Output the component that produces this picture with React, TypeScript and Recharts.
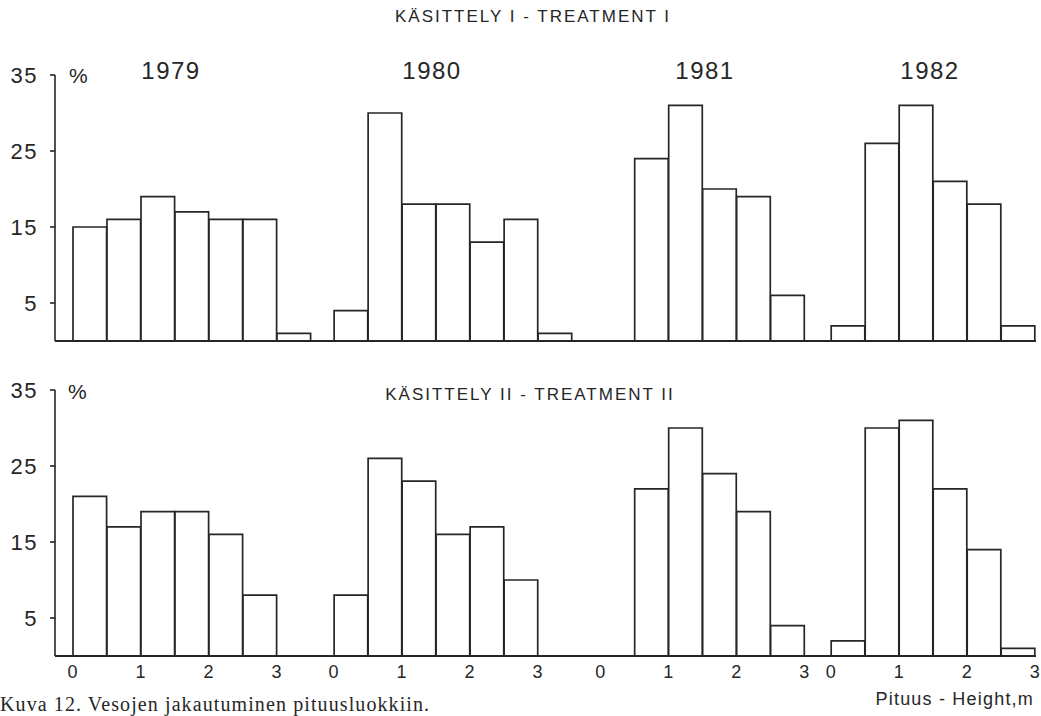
import { BarChart, Bar, XAxis, YAxis } from 'recharts';

// height classes (m): midpoints of 0.5 m classes, last one is ">3 m"
const classMids = [0.25, 0.75, 1.25, 1.75, 2.25, 2.75, 3.25];
const classTickValues = [0, 1, 2, 3];
const classTickLabels = ['0', '1', '2', '3'];
const years = ['1979', '1980', '1981', '1982'];
const yTicks = [5, 15, 25, 35];

// Treatment I, % of shoots per height class
const t1_1979 = [15, 16, 19, 17, 16, 16, 1];
const t1_1980 = [4, 30, 18, 18, 13, 16, 1];
const t1_1981 = [0, 24, 31, 20, 19, 6];
const t1_1982 = [2, 26, 31, 21, 18, 2];

// Treatment II
const t2_1979 = [21, 17, 19, 19, 16, 8, 0];
const t2_1980 = [8, 26, 23, 16, 17, 10, 0];
const t2_1981 = [0, 22, 30, 24, 19, 4];
const t2_1982 = [2, 30, 31, 22, 14, 1];

// layout: where each year's "0 m" sits on the shared axis (in metres)
const GROUP_START = [0, 3.84, 7.76, 11.15];
const WIDTH = 1041;
const AXIS_W = 55;
const RIGHT = 5;
const PX_PER_M = 68;
const X_MIN = -18 / PX_PER_M;
const X_MAX = X_MIN + (WIDTH - AXIS_W - RIGHT) / PX_PER_M;
const BAR_SIZE = PX_PER_M / 2 - 0.4;

const INK = '#262626';
const FONT = '"Liberation Sans", Arial, Helvetica, sans-serif';

function buildRows(groups: number[][]) {
    const rows: { x: number; v: number }[] = [];
    groups.forEach((vals, g) => {
        vals.forEach((v, i) => {
            rows.push({ x: GROUP_START[g] + classMids[i], v });
        });
    });
    return rows;
}

const ticksX: number[] = [];
const ticksXLabels: string[] = [];
GROUP_START.forEach(start => {
    classTickValues.forEach((t, i) => {
        ticksX.push(start + t);
        ticksXLabels.push(classTickLabels[i]);
    });
});

function Panel({ rows, showTicks, height, top, bottom }: { rows: { x: number; v: number }[]; showTicks: boolean; height: number; top: number; bottom: number }) {
    const xAxisH = showTicks ? 30 : 1;
    return (
        <BarChart width={WIDTH} height={height} data={rows} margin={{ top, right: RIGHT, left: 0, bottom }} barCategoryGap={0} barGap={0}>
            <XAxis
                type="number"
                dataKey="x"
                domain={[X_MIN, X_MAX]}
                allowDataOverflow
                ticks={showTicks ? ticksX : []}
                interval={0}
                tick={showTicks ? { fill: INK, fontSize: 18, fontFamily: FONT, letterSpacing: 1 } : false}
                tickFormatter={(_v: number, i: number) => ticksXLabels[i]}
                tickLine={false}
                tickSize={0}
                tickMargin={9}
                height={xAxisH}
                stroke={INK}
                strokeWidth={1.8}
            />
            <YAxis
                type="number"
                domain={[0, 35]}
                ticks={yTicks}
                interval={0}
                width={AXIS_W}
                tickSize={5}
                tickMargin={12}
                tick={{ fill: INK, fontSize: 22, fontFamily: FONT, letterSpacing: 1.5 }}
                stroke={INK}
                strokeWidth={1.6}
            />
            <Bar dataKey="v" fill="#fff" stroke={INK} strokeWidth={1.7} barSize={BAR_SIZE} isAnimationActive={false} />
        </BarChart>
    );
}

export default function App() {
    const rows1 = buildRows([t1_1979, t1_1980, t1_1981, t1_1982]);
    const rows2 = buildRows([t2_1979, t2_1980, t2_1981, t2_1982]);
    const yearX = [171, 432, 705, 930];

    return (
        <div style={{ position: 'fixed', left: 0, top: 0, width: WIDTH, height: 716, background: '#fff', overflow: 'hidden' }}>
            <div style={{ position: 'absolute', left: 0, top: 0 }}>
                <Panel rows={rows1} showTicks={false} height={350} top={75} bottom={8} />
            </div>
            <div style={{ position: 'absolute', left: 0, top: 350 }}>
                <Panel rows={rows2} showTicks={true} height={366} top={40} bottom={30} />
            </div>
            <svg width={WIDTH} height={716} style={{ position: 'absolute', left: 0, top: 0, pointerEvents: 'none' }}>
                <g fontFamily={FONT} fill={INK}>
                    <text x={533} y={22} fontSize={17} letterSpacing={2} textAnchor="middle">KÄSITTELY I - TREATMENT I</text>
                    <text x={530} y={400} fontSize={17} letterSpacing={2} textAnchor="middle">KÄSITTELY II - TREATMENT II</text>
                    <text x={69} y={83} fontSize={21}>%</text>
                    <text x={68} y={399} fontSize={21}>%</text>
                    {years.map((y, i) => (
                        <text key={y} x={yearX[i]} y={79} fontSize={24} letterSpacing={1.5} textAnchor="middle">{y}</text>
                    ))}
                    <text x={1034} y={705} fontSize={18} letterSpacing={1.2} textAnchor="end">Pituus - Height,m</text>
                </g>
                <text x={0} y={711} fontSize={20} letterSpacing={1.1} fontFamily='"Liberation Serif", "Times New Roman", serif' fill={INK}>
                    Kuva 12. Vesojen jakautuminen pituusluokkiin.
                </text>
            </svg>
        </div>
    );
}
